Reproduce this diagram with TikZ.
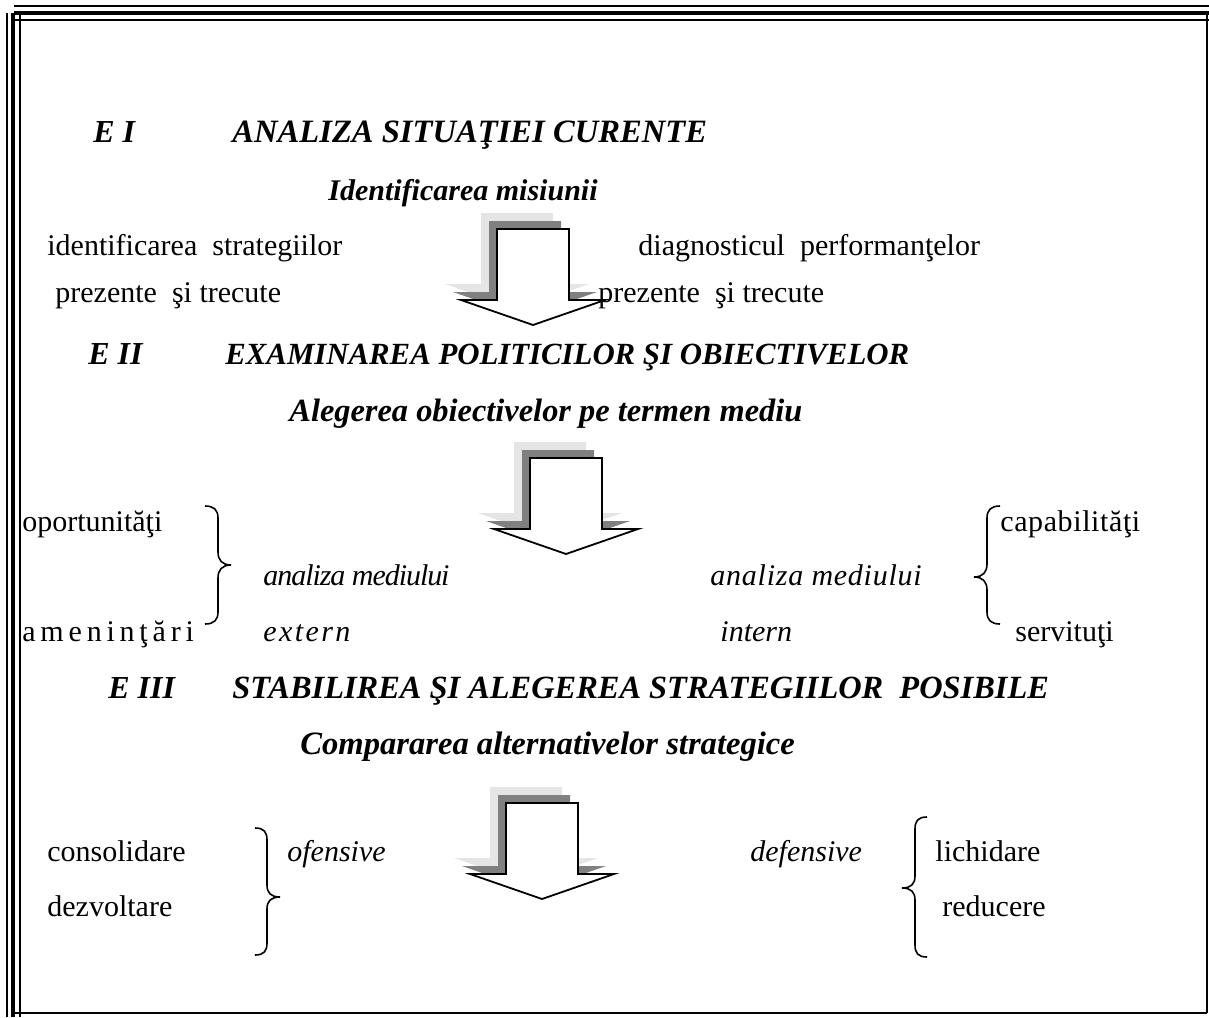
\documentclass[tikz,border=0pt]{standalone}
\usepackage{fontspec}
\setmainfont{Liberation Serif}
\begin{document}
\begin{tikzpicture}[x=0.5pt,y=-0.5pt,
  txt/.style={anchor=base west,inner sep=0pt,font=\fontsize{15}{18}\selectfont},
  head/.style={txt,font=\fontsize{16}{19}\selectfont\bfseries\itshape},
  itx/.style={txt,font=\fontsize{15}{18}\selectfont\itshape},
  brc/.style={line width=0.8pt},
  frame/.style={line width=0.9pt},
  thickframe/.style={line width=2.4pt},
  blockarr/.pic={
    \fill[black!10] (-52,-16) -- (20,-16) -- (20,55) -- (56,55) -- (-16,80) -- (-88,55) -- (-52,55) -- cycle;
    \fill[black!50] (-44,-8) -- (28,-8) -- (28,63) -- (64,63) -- (-8,88) -- (-80,63) -- (-44,63) -- cycle;
    \filldraw[fill=white,draw=black,line width=0.9pt] (-36,0) -- (36,0) -- (36,71) -- (72,71) -- (0,96) -- (-72,71) -- (-36,71) -- cycle;
  }]
\useasboundingbox (0,0) rectangle (1209,1017);
% frame
\draw[frame] (14,6) -- (1209,6);
\draw[thickframe] (14,13) -- (1209,13);
\draw[frame] (14,20) -- (1209,20);
\draw[frame] (7,13) -- (7,1017);
\draw[thickframe] (13,13) -- (13,1017);
\draw[frame] (20,13) -- (20,1017);
\draw[frame] (1207,13) -- (1207,1013);
\draw[line width=1.4pt] (14,1013) -- (1207,1013);
% arrows
\pic at (533,229) {blockarr};
\pic at (566,458) {blockarr};
\pic at (542,803) {blockarr};
% stage I
\node[head] (e1) at (93,142) {E I};
\node[head,font=\fontsize{16.3}{19}\selectfont\bfseries\itshape] (t1) at (232,142) {ANALIZA SITUAŢIEI CURENTE};
\node[head,font=\fontsize{15}{18}\selectfont\bfseries\itshape] (m1) at (328,200) {Identificarea misiunii};
\node[txt] (a1) at (47,255) {identificarea\ \ strategiilor};
\node[txt] (a2) at (55,302) {prezente\ \ şi trecute};
\node[txt] (b1) at (638,255) {diagnosticul\ \ performanţelor};
\node[txt] (b2) at (598,302) {prezente\ \ şi trecute};
% stage II
\node[head] (e2) at (88,364) {E II};
\node[head,font=\fontsize{15.4}{18}\selectfont\bfseries\itshape] (t2) at (225,364) {EXAMINAREA POLITICILOR ŞI OBIECTIVELOR};
\node[head,font=\fontsize{16.2}{19}\selectfont\bfseries\itshape] (m2) at (289,421) {Alegerea obiectivelor pe termen mediu};
\node[txt] (c1) at (22,531) {oportunităţi};
\node[txt] (c2) at (22,641) {\addfontfeature{LetterSpace=16}ameninţări};
\node[itx] (c3) at (263,585) {\addfontfeature{LetterSpace=-3.5}analiza mediului};
\node[itx] (c4) at (263,641) {\addfontfeature{LetterSpace=8}extern};
\node[itx] (d3) at (710,585) {\addfontfeature{LetterSpace=2.5}analiza mediului};
\node[itx] (d4) at (720,641) {intern};
\node[txt] (d1) at (1000,531) {\addfontfeature{LetterSpace=2}capabilităţi};
\node[txt] (d2) at (1015,641) {servituţi};
\draw[brc] (205,506) .. controls (214,506) and (218,510) .. (218,518) -- (218,552) .. controls (218,560) and (222,565) .. (231,565) .. controls (222,565) and (218,570) .. (218,578) -- (218,612) .. controls (218,620) and (214,624) .. (205,624);
\draw[brc] (1000,506) .. controls (991,506) and (987,510) .. (987,518) -- (987,564) .. controls (987,572) and (983,577) .. (974,577) .. controls (983,577) and (987,582) .. (987,590) -- (987,612) .. controls (987,620) and (991,624) .. (1000,624);
% stage III
\node[head] (e3) at (108,698) {E III};
\node[head,font=\fontsize{16.2}{19}\selectfont\bfseries\itshape] (t3) at (232,698) {STABILIREA ŞI ALEGEREA STRATEGIILOR\ \ POSIBILE};
\node[head,font=\fontsize{16.3}{19}\selectfont\bfseries\itshape] (m3) at (300,754) {Compararea alternativelor strategice};
\node[txt] (f1) at (47,861) {consolidare};
\node[txt] (f2) at (47,916) {dezvoltare};
\node[itx] (f3) at (287,861) {ofensive};
\node[itx] (g3) at (750,861) {defensive};
\node[txt] (g1) at (935,861) {lichidare};
\node[txt] (g2) at (942,916) {reducere};
\draw[brc] (255,828) .. controls (264,828) and (267,832) .. (267,840) -- (267,885) .. controls (267,893) and (271,897) .. (280,897) .. controls (271,897) and (267,901) .. (267,909) -- (267,943) .. controls (267,951) and (264,955) .. (255,955);
\draw[brc] (927,817) .. controls (918,817) and (915,821) .. (915,829) -- (915,876) .. controls (915,884) and (911,888) .. (902,888) .. controls (911,888) and (915,892) .. (915,900) -- (915,945) .. controls (915,953) and (918,957) .. (927,957);
\end{tikzpicture}
\end{document}
